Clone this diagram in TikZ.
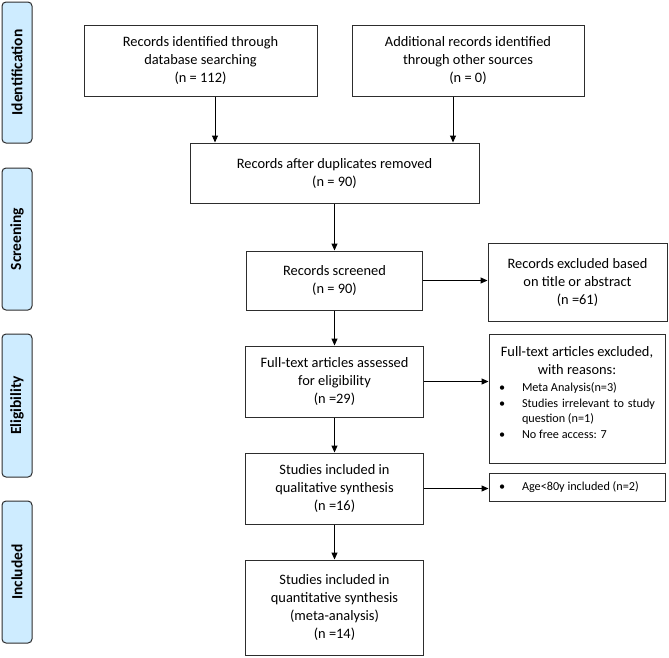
\documentclass[tikz,border=0pt]{standalone}
\usepackage{fontspec}
\setmainfont{Carlito}
\usetikzlibrary{arrows.meta}
\definecolor{labfill}{RGB}{206,236,255}
\definecolor{edge}{RGB}{45,45,45}
\newcommand{\bitem}[1]{\par\noindent\hangindent=33pt\hangafter=1\makebox[33pt][l]{\hspace{10pt}\textbullet}#1\par}
\begin{document}
\begin{tikzpicture}[x=1pt,y=-1pt,
  stagelab/.style={draw=edge, line width=1pt, fill=labfill, rounded corners=4pt,
    rotate=90, minimum height=30, inner sep=0pt,
    font=\fontsize{15.5}{18}\selectfont\bfseries},
  flowbox/.style={draw=edge, line width=1pt, inner sep=0pt, align=center,
    font=\fontsize{14.4}{18}\selectfont},
  arr/.style={draw=black, line width=1pt, -{Triangle[length=7pt,width=6pt]}}]
\useasboundingbox (0,0) rectangle (669,657);
% stage labels
\node[stagelab, minimum width=141] (lid) at (17,72.5) {Identification};
\node[stagelab, minimum width=142] (lsc) at (17,239) {Screening};
\node[stagelab, minimum width=143] (lel) at (17,405.5) {Eligibility};
\node[stagelab, minimum width=142] (lin) at (17,572) {Included};
% boxes
\node[flowbox, minimum width=233, minimum height=71] (a) at (200.5,60.5)
  {Records identified through\\database searching\\(n = 112)};
\node[flowbox, minimum width=232, minimum height=71] (b) at (468,60.5)
  {Additional records identified\\through other sources\\(n = 0)};
\node[flowbox, minimum width=289, minimum height=60] (c) at (334.5,173)
  {Records after duplicates removed\\(n = 90)};
\node[flowbox, minimum width=176, minimum height=59] (d) at (334.5,280.5)
  {Records screened\\(n = 90)};
\node[flowbox, minimum width=179, minimum height=78] (e) at (577.5,282)
  {Records excluded based\\on title or abstract\\(n =61)};
\node[flowbox, minimum width=178, minimum height=71] (f) at (334.5,381.5)
  {Full-text articles assessed\\for eligibility\\(n =29)};
\node[flowbox, align=left] (g) at (577,398.5)
  {\begin{minipage}[c][129pt][t]{176pt}
   \vspace*{10pt}
   {\centering\strut Full-text articles excluded,\\with reasons:\par}
   \vspace{1.5pt}
   \fontsize{12.2}{15.5}\selectfont\rightskip=10pt
   \bitem{Meta Analysis(n=3)}
   \bitem{Studies irrelevant to study\linebreak question (n=1)}
   \bitem{No free access: 7}
   \end{minipage}};
\node[flowbox, minimum width=178, minimum height=71] (h) at (334.5,488.5)
  {Studies included in\\qualitative synthesis\\(n =16)};
\node[flowbox, align=left, minimum width=176, minimum height=28] (i) at (577,487)
  {\begin{minipage}{176pt}\fontsize{12.2}{15}\selectfont
   \bitem{Age<80y included (n=2)}\end{minipage}};
\node[flowbox, minimum width=178, minimum height=95] (j) at (334.5,607.5)
  {Studies included in\\quantitative synthesis\\(meta-analysis)\\(n =14)};
% connectors
\draw[arr] ([xshift=14.5]a.south) -- ([xshift=14.5]a.south |- c.north);
\draw[arr] ([xshift=-15]b.south) -- ([xshift=-15]b.south |- c.north);
\draw[arr] (c.south) -- (d.north);
\draw[arr] (d.east) -- (d.east -| e.west);
\draw[arr] (d.south) -- (f.north);
\draw[arr] (f.east) -- (f.east -| g.west);
\draw[arr] (f.south) -- (h.north);
\draw[arr] (h.east) -- (h.east -| i.west);
\draw[arr] (h.south) -- (j.north);
\end{tikzpicture}
\end{document}
